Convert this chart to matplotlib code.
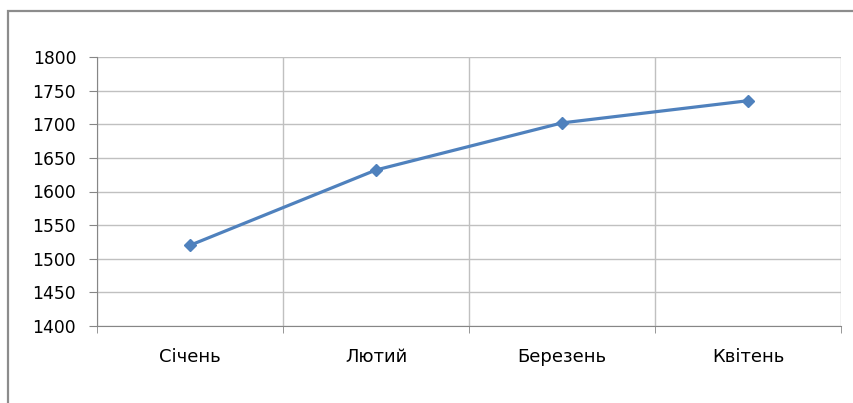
import matplotlib
matplotlib.use("Agg")
import matplotlib.pyplot as plt
from matplotlib.patches import Rectangle

months = ["Січень", "Лютий", "Березень", "Квітень"]
values = [1520, 1632, 1702, 1735]
y_ticks = [1400, 1450, 1500, 1550, 1600, 1650, 1700, 1750, 1800]

plt.rcParams['font.family'] = ['DejaVu Sans']

fig = plt.figure(figsize=(8.54, 4.03), dpi=100)
# outer chart frame, cut by the image edge on the right and bottom
fig.patches.append(Rectangle((8 / 854, -0.1), 1.2, 1 - 11 / 403 + 0.1,
                             transform=fig.transFigure, fill=False,
                             edgecolor="#8c8c8c", linewidth=1.6))

ax = fig.add_axes([97 / 854, 77 / 403, 744 / 854, 269 / 403])
x = list(range(len(months)))
ax.plot(x, values, color="#4f81bd", linewidth=2.3, marker="D",
        markersize=6.5, zorder=3)

ax.set_xlim(-0.5, len(months) - 0.5)
ax.set_ylim(1400, 1800)
ax.set_yticks(y_ticks)
ax.set_xticks(x)
ax.set_xticklabels(months)
ax.set_xticks([i - 0.5 for i in range(len(months) + 1)], minor=True)

ax.grid(axis="y", color="#c0c0c0", linewidth=1)
ax.grid(axis="x", which="minor", color="#c0c0c0", linewidth=1)
ax.set_axisbelow(True)

for s in ["top", "right"]:
    ax.spines[s].set_visible(False)
for s in ["left", "bottom"]:
    ax.spines[s].set_color("#868686")

ax.tick_params(axis="y", length=6, color="#868686", pad=9, labelsize=12.3)
ax.tick_params(axis="x", which="major", length=0, pad=16, labelsize=13)
ax.tick_params(axis="x", which="minor", length=5, color="#868686")

fig.savefig("out.png", dpi=100)
